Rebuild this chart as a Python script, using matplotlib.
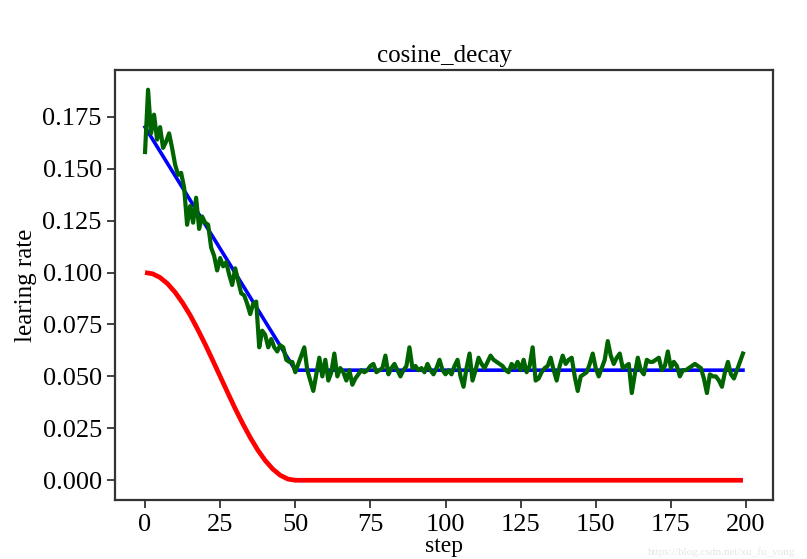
import matplotlib
matplotlib.use("Agg")
import matplotlib.pyplot as plt

plt.rcParams['font.family'] = ['Liberation Serif', 'DejaVu Serif']

title = "cosine_decay"
xlabel = "step"
ylabel = "learing rate"

xticks = [0, 25, 50, 75, 100, 125, 150, 175, 200]
yticks = [0.000, 0.025, 0.050, 0.075, 0.100, 0.125, 0.150, 0.175]

# red: cosine decay (read every 2.5 steps)
red_steps = [0, 2.5, 5, 7.5, 10, 12.5, 15, 17.5, 20, 22.5, 25, 27.5, 30, 32.5, 35,
             37.5, 40, 42.5, 45, 47.5, 50, 199]
red_values = [0.1000, 0.0994, 0.0976, 0.0946, 0.0905, 0.0854, 0.0795, 0.0727, 0.0655,
              0.0578, 0.0500, 0.0422, 0.0345, 0.0273, 0.0206, 0.0146, 0.0095, 0.0054,
              0.0024, 0.0006, 0.0000, 0.0000]

# blue: linear decay then constant
blue_steps = [0, 50, 199]
blue_values = [0.170, 0.053, 0.053]

# green: noisy learning rate, one value per step 0..199
green_values = [
    0.158, 0.188, 0.167, 0.176, 0.164, 0.170, 0.160, 0.163, 0.167, 0.160,
    0.152, 0.147, 0.148, 0.141, 0.123, 0.132, 0.124, 0.136, 0.121, 0.127,
    0.124, 0.123, 0.112, 0.108, 0.101, 0.107, 0.103, 0.105, 0.099, 0.094,
    0.102, 0.096, 0.090, 0.089, 0.085, 0.080, 0.085, 0.086, 0.064, 0.072,
    0.070, 0.064, 0.068, 0.064, 0.062, 0.065, 0.064, 0.058, 0.057, 0.057,
    0.052, 0.056, 0.060, 0.064, 0.053, 0.048, 0.043, 0.051, 0.059, 0.050,
    0.058, 0.048, 0.052, 0.061, 0.050, 0.054, 0.052, 0.048, 0.053, 0.046,
    0.049, 0.051, 0.053, 0.052, 0.053, 0.055, 0.056, 0.052, 0.053, 0.054,
    0.060, 0.051, 0.054, 0.056, 0.053, 0.050, 0.053, 0.055, 0.064, 0.054,
    0.055, 0.053, 0.054, 0.052, 0.056, 0.053, 0.051, 0.054, 0.058, 0.053,
    0.051, 0.053, 0.051, 0.055, 0.058, 0.050, 0.045, 0.054, 0.061, 0.048,
    0.053, 0.059, 0.056, 0.054, 0.057, 0.060, 0.058, 0.057, 0.056, 0.055,
    0.053, 0.052, 0.056, 0.054, 0.057, 0.053, 0.058, 0.052, 0.055, 0.064,
    0.048, 0.049, 0.052, 0.054, 0.055, 0.059, 0.053, 0.048, 0.055, 0.060,
    0.056, 0.058, 0.059, 0.050, 0.043, 0.050, 0.051, 0.052, 0.056, 0.061,
    0.054, 0.050, 0.054, 0.058, 0.067, 0.060, 0.056, 0.059, 0.061, 0.054,
    0.055, 0.056, 0.042, 0.051, 0.059, 0.053, 0.051, 0.058, 0.057, 0.057,
    0.058, 0.059, 0.053, 0.055, 0.062, 0.054, 0.057, 0.055, 0.050, 0.053,
    0.053, 0.054, 0.055, 0.056, 0.055, 0.054, 0.049, 0.042, 0.051, 0.050,
    0.050, 0.048, 0.045, 0.052, 0.057, 0.051, 0.049, 0.053, 0.057, 0.061,
]
green_steps = list(range(len(green_values)))

fig = plt.figure(figsize=(8.07, 5.59), dpi=100)
ax = fig.add_axes([115 / 807, 1 - 500 / 559, (773 - 115) / 807, (500 - 70) / 559])

ax.plot(red_steps, red_values, color='#ff0000', linewidth=3.4, solid_capstyle='butt')
ax.plot(blue_steps, blue_values, color='#0000ff', linewidth=2.6)
ax.plot(green_steps, green_values, color='#006400', linewidth=3.0)

ax.set_xlim(-10, 209)
ax.set_ylim(-0.0095, 0.1975)
ax.set_xticks(xticks)
ax.set_yticks(yticks)
ax.set_yticklabels([f"{v:.3f}" for v in yticks])
ax.tick_params(axis='both', labelsize=19, length=6, width=1.3, color='#333333')
ax.tick_params(axis='x', pad=4)

for s in ax.spines.values():
    s.set_linewidth(1.6)
    s.set_color('#333333')

ax.set_title(title, fontsize=18, pad=6)
ax.set_xlabel(xlabel, fontsize=17, labelpad=0)
ax.set_ylabel(ylabel, fontsize=18, labelpad=4)

fig.text(0.985, 0.003, "https://blog.csdn.net/xu_fu_yong", ha='right', va='bottom',
         fontsize=8, color='#e6e6e6')

fig.savefig("out.png", dpi=100)
